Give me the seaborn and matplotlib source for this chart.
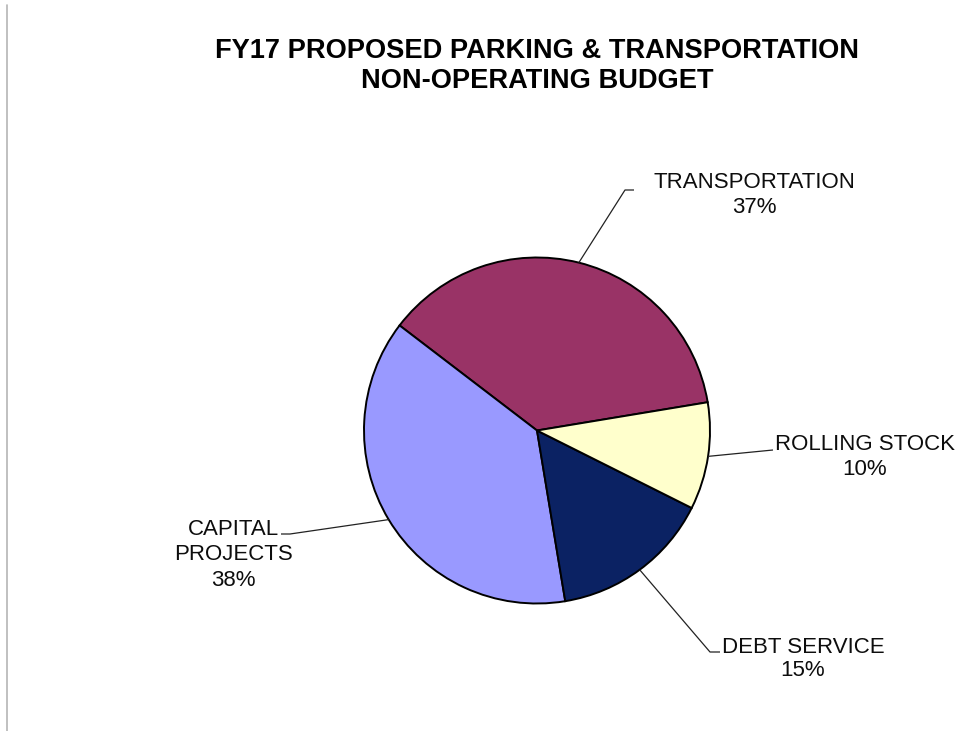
import numpy as np
import matplotlib
matplotlib.use("Agg")
import matplotlib.pyplot as plt
from matplotlib.lines import Line2D
import seaborn as sns

# Budget breakdown (share of non-operating budget, %)
categories = ["TRANSPORTATION", "CAPITAL\nPROJECTS", "DEBT SERVICE", "ROLLING STOCK"]
shares = [37, 38, 15, 10]
slice_colors = ["#993366", "#9999FF", "#0B2263", "#FFFFCC"]

title_lines = ["FY17 PROPOSED PARKING & TRANSPORTATION", "NON-OPERATING BUDGET"]

sns.set_theme(style="white")
plt.rcParams["font.family"] = ["Liberation Sans", "DejaVu Sans"]

W, H, DPI = 958, 731, 100
fig = plt.figure(figsize=(W / DPI, H / DPI), dpi=DPI)
fig.patch.set_facecolor("white")
ax = fig.add_axes([0, 0, 1, 1])

# pixel geometry of the pie: centre and radius
CX, CY, R = 537.0, 430.5, 173.0


def to_data(px, py):
    return (px - CX) / R, (CY - py) / R


wedges, _ = ax.pie(
    shares,
    colors=slice_colors,
    startangle=9.4,
    counterclock=True,
    radius=1.0,
    wedgeprops=dict(edgecolor="black", linewidth=1.4),
)
ax.set_aspect("auto")
ax.set_xlim(-CX / R, (W - CX) / R)
ax.set_ylim((CY - H) / R, CY / R)
ax.axis("off")


def edge_point(w):
    mid = np.deg2rad((w.theta1 + w.theta2) / 2.0)
    return np.cos(mid) * w.r, np.sin(mid) * w.r


# leader line routing (pixel waypoints after the wedge edge) and label placement
label_layout = [
    # waypoints, text centre x, baselines
    ([(625, 190), (634, 190)], 754, [188, 213]),
    ([(290, 534), (281, 534)], 233, [535, 560, 586]),
    ([(710, 652), (720, 652)], 803, [653, 676]),
    ([(773, 450)], 865, [450, 475]),
]

label_font = dict(fontsize=16, color="#0d0d0d", ha="center", va="baseline")

for w, name, pct, (route, tx, baselines) in zip(wedges, categories, shares, label_layout):
    sx, sy = edge_point(w)
    pts = [(sx, sy)] + [to_data(*p) for p in route]
    xs, ys = zip(*pts)
    ax.plot(xs, ys, color="#222222", linewidth=0.9, solid_capstyle="butt")
    lines = name.split("\n") + [f"{pct}%"]
    for line, by in zip(lines, baselines):
        x, y = to_data(tx, by)
        ax.text(x, y, line, **label_font)

# chart title
for line, by in zip(title_lines, [58, 88]):
    fig.text(537 / W, 1 - by / H, line, ha="center", va="baseline",
             fontsize=19.6, fontweight="bold", color="black")

# thin frame rule along the left side
fig.add_artist(Line2D([6.5 / W, 6.5 / W], [0, 1 - 5 / H], transform=fig.transFigure,
                      color="#b5b5b5", linewidth=1.2))

fig.savefig("out.png", dpi=DPI, facecolor="white")
